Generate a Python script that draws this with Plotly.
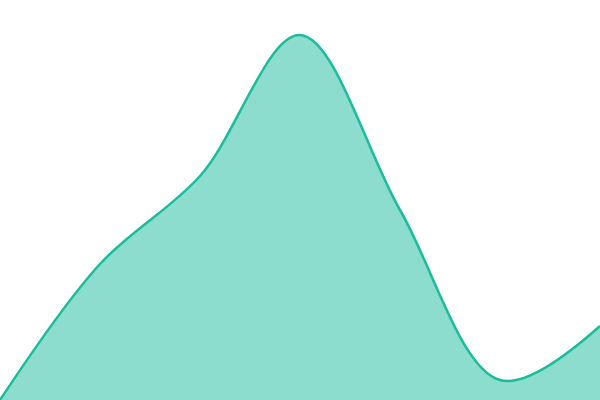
import plotly.graph_objects as go

# sample positions and values (y as height above the bottom edge)
x_vals = [0, 1, 2, 3, 4, 5, 6]
y_vals = [0, 136, 224, 365, 190, 20, 74]

fig = go.Figure(
    go.Scatter(
        x=x_vals,
        y=y_vals,
        mode="lines",
        line=dict(color="#1abc9c", width=2.5, shape="spline", smoothing=1),
        fill="tozeroy",
        fillcolor="rgba(26,188,156,0.5)",
        hoverinfo="skip",
    )
)

fig.update_layout(
    width=600,
    height=400,
    margin=dict(l=0, r=0, t=0, b=0),
    paper_bgcolor="white",
    plot_bgcolor="white",
    showlegend=False,
    xaxis=dict(visible=False, range=[0, 6]),
    yaxis=dict(visible=False, range=[0, 400]),
)

# drop the page's default body margin so the 600x400 figure fills the window
fig.write_html(
    "out.html",
    config={"displayModeBar": False},
    post_script="document.body.style.margin='0';document.body.style.overflow='hidden';",
)
